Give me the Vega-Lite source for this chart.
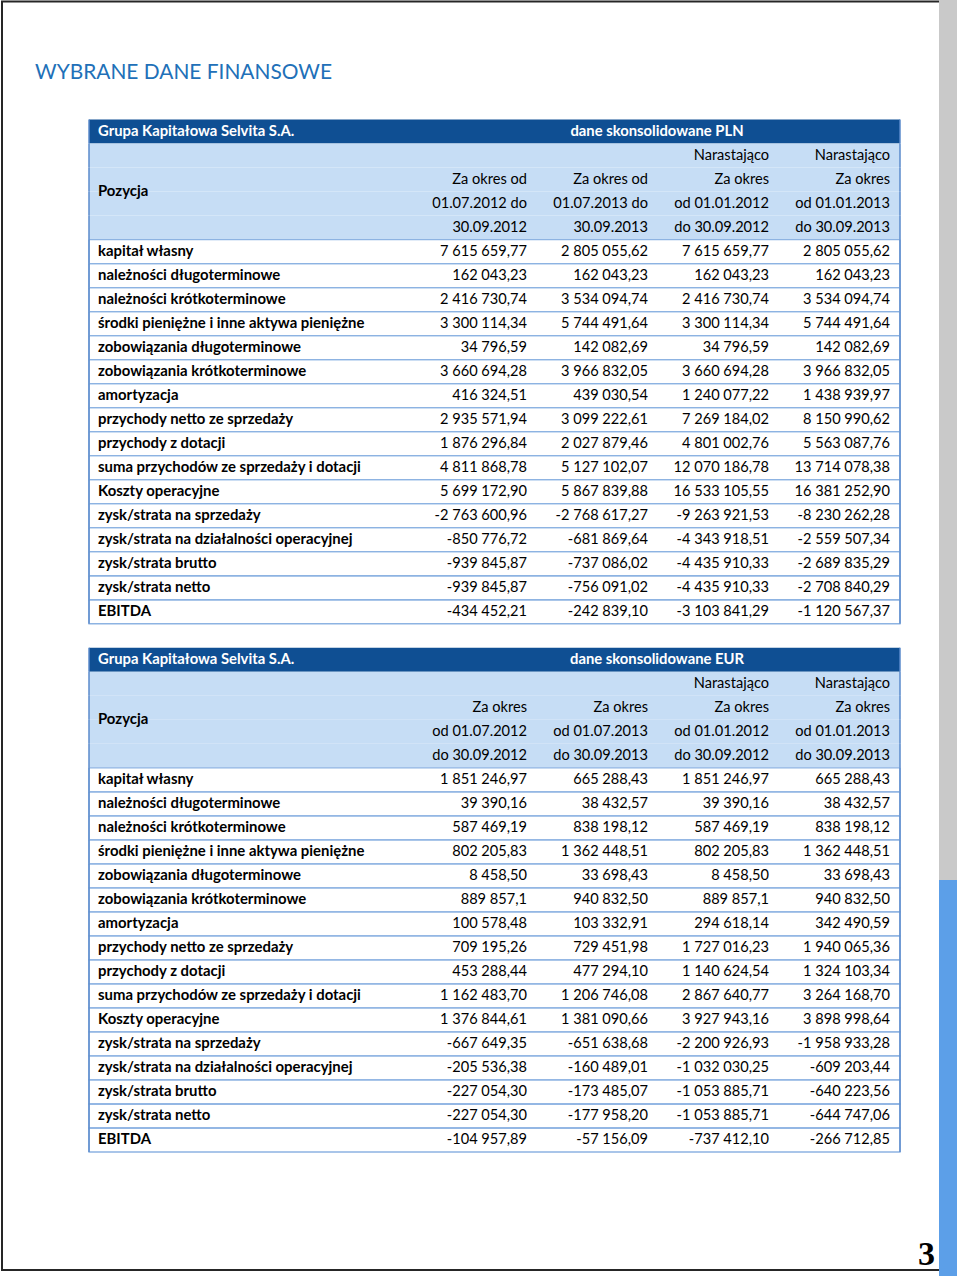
{
"$schema": "https://vega.github.io/schema/vega-lite/v6.json",
"width": 960, "height": 1276,
"autosize": {"type": "fit", "contains": "padding"},
"padding": 0,
"background": "#ffffff",
"config": {"view": {"stroke": null}, "text": {"font": "Lato", "baseline": "middle"}},
"datasets": {
"lines": [
{"line":0,"kind":"title"},{"line":1,"kind":"header"},{"line":2,"kind":"header"},{"line":3,"kind":"header"},{"line":4,"kind":"header"},
{"line":5,"kind":"data"},{"line":6,"kind":"data"},{"line":7,"kind":"data"},{"line":8,"kind":"data"},{"line":9,"kind":"data"},{"line":10,"kind":"data"},{"line":11,"kind":"data"},{"line":12,"kind":"data"},{"line":13,"kind":"data"},{"line":14,"kind":"data"},{"line":15,"kind":"data"},{"line":16,"kind":"data"},{"line":17,"kind":"data"},{"line":18,"kind":"data"},{"line":19,"kind":"data"},{"line":20,"kind":"data"},
{"line":22,"kind":"title"},{"line":23,"kind":"header"},{"line":24,"kind":"header"},{"line":25,"kind":"header"},{"line":26,"kind":"header"},
{"line":27,"kind":"data"},{"line":28,"kind":"data"},{"line":29,"kind":"data"},{"line":30,"kind":"data"},{"line":31,"kind":"data"},{"line":32,"kind":"data"},{"line":33,"kind":"data"},{"line":34,"kind":"data"},{"line":35,"kind":"data"},{"line":36,"kind":"data"},{"line":37,"kind":"data"},{"line":38,"kind":"data"},{"line":39,"kind":"data"},{"line":40,"kind":"data"},{"line":41,"kind":"data"},{"line":42,"kind":"data"}
],
"bars": [
{"line":0,"left":"Grupa Kapitałowa Selvita S.A.","center":"dane skonsolidowane PLN"},
{"line":22,"left":"Grupa Kapitałowa Selvita S.A.","center":"dane skonsolidowane EUR"}
],
"pozycja": [{"line":2,"text":"Pozycja"},{"line":24,"text":"Pozycja"}],
"heading": [{"line":-2,"text":"WYBRANE DANE FINANSOWE"}],
"labels": [
{"line":5,"text":"kapitał własny"},{"line":6,"text":"należności długoterminowe"},{"line":7,"text":"należności krótkoterminowe"},{"line":8,"text":"środki pieniężne i inne aktywa pieniężne"},{"line":9,"text":"zobowiązania długoterminowe"},{"line":10,"text":"zobowiązania krótkoterminowe"},{"line":11,"text":"amortyzacja"},{"line":12,"text":"przychody netto ze sprzedaży"},{"line":13,"text":"przychody z dotacji"},{"line":14,"text":"suma przychodów ze sprzedaży i dotacji"},{"line":15,"text":"Koszty operacyjne"},{"line":16,"text":"zysk/strata na sprzedaży"},{"line":17,"text":"zysk/strata na działalności operacyjnej"},{"line":18,"text":"zysk/strata brutto"},{"line":19,"text":"zysk/strata netto"},{"line":20,"text":"EBITDA"},
{"line":27,"text":"kapitał własny"},{"line":28,"text":"należności długoterminowe"},{"line":29,"text":"należności krótkoterminowe"},{"line":30,"text":"środki pieniężne i inne aktywa pieniężne"},{"line":31,"text":"zobowiązania długoterminowe"},{"line":32,"text":"zobowiązania krótkoterminowe"},{"line":33,"text":"amortyzacja"},{"line":34,"text":"przychody netto ze sprzedaży"},{"line":35,"text":"przychody z dotacji"},{"line":36,"text":"suma przychodów ze sprzedaży i dotacji"},{"line":37,"text":"Koszty operacyjne"},{"line":38,"text":"zysk/strata na sprzedaży"},{"line":39,"text":"zysk/strata na działalności operacyjnej"},{"line":40,"text":"zysk/strata brutto"},{"line":41,"text":"zysk/strata netto"},{"line":42,"text":"EBITDA"}
],
"cells": [
{"line":1,"col":3,"text":"Narastająco"},{"line":1,"col":4,"text":"Narastająco"},
{"line":2,"col":1,"text":"Za okres od"},{"line":2,"col":2,"text":"Za okres od"},{"line":2,"col":3,"text":"Za okres"},{"line":2,"col":4,"text":"Za okres"},
{"line":3,"col":1,"text":"01.07.2012 do"},{"line":3,"col":2,"text":"01.07.2013 do"},{"line":3,"col":3,"text":"od 01.01.2012"},{"line":3,"col":4,"text":"od 01.01.2013"},
{"line":4,"col":1,"text":"30.09.2012"},{"line":4,"col":2,"text":"30.09.2013"},{"line":4,"col":3,"text":"do 30.09.2012"},{"line":4,"col":4,"text":"do 30.09.2013"},
{"line":5,"col":1,"text":"7 615 659,77"},{"line":5,"col":2,"text":"2 805 055,62"},{"line":5,"col":3,"text":"7 615 659,77"},{"line":5,"col":4,"text":"2 805 055,62"},
{"line":6,"col":1,"text":"162 043,23"},{"line":6,"col":2,"text":"162 043,23"},{"line":6,"col":3,"text":"162 043,23"},{"line":6,"col":4,"text":"162 043,23"},
{"line":7,"col":1,"text":"2 416 730,74"},{"line":7,"col":2,"text":"3 534 094,74"},{"line":7,"col":3,"text":"2 416 730,74"},{"line":7,"col":4,"text":"3 534 094,74"},
{"line":8,"col":1,"text":"3 300 114,34"},{"line":8,"col":2,"text":"5 744 491,64"},{"line":8,"col":3,"text":"3 300 114,34"},{"line":8,"col":4,"text":"5 744 491,64"},
{"line":9,"col":1,"text":"34 796,59"},{"line":9,"col":2,"text":"142 082,69"},{"line":9,"col":3,"text":"34 796,59"},{"line":9,"col":4,"text":"142 082,69"},
{"line":10,"col":1,"text":"3 660 694,28"},{"line":10,"col":2,"text":"3 966 832,05"},{"line":10,"col":3,"text":"3 660 694,28"},{"line":10,"col":4,"text":"3 966 832,05"},
{"line":11,"col":1,"text":"416 324,51"},{"line":11,"col":2,"text":"439 030,54"},{"line":11,"col":3,"text":"1 240 077,22"},{"line":11,"col":4,"text":"1 438 939,97"},
{"line":12,"col":1,"text":"2 935 571,94"},{"line":12,"col":2,"text":"3 099 222,61"},{"line":12,"col":3,"text":"7 269 184,02"},{"line":12,"col":4,"text":"8 150 990,62"},
{"line":13,"col":1,"text":"1 876 296,84"},{"line":13,"col":2,"text":"2 027 879,46"},{"line":13,"col":3,"text":"4 801 002,76"},{"line":13,"col":4,"text":"5 563 087,76"},
{"line":14,"col":1,"text":"4 811 868,78"},{"line":14,"col":2,"text":"5 127 102,07"},{"line":14,"col":3,"text":"12 070 186,78"},{"line":14,"col":4,"text":"13 714 078,38"},
{"line":15,"col":1,"text":"5 699 172,90"},{"line":15,"col":2,"text":"5 867 839,88"},{"line":15,"col":3,"text":"16 533 105,55"},{"line":15,"col":4,"text":"16 381 252,90"},
{"line":16,"col":1,"text":"-2 763 600,96"},{"line":16,"col":2,"text":"-2 768 617,27"},{"line":16,"col":3,"text":"-9 263 921,53"},{"line":16,"col":4,"text":"-8 230 262,28"},
{"line":17,"col":1,"text":"-850 776,72"},{"line":17,"col":2,"text":"-681 869,64"},{"line":17,"col":3,"text":"-4 343 918,51"},{"line":17,"col":4,"text":"-2 559 507,34"},
{"line":18,"col":1,"text":"-939 845,87"},{"line":18,"col":2,"text":"-737 086,02"},{"line":18,"col":3,"text":"-4 435 910,33"},{"line":18,"col":4,"text":"-2 689 835,29"},
{"line":19,"col":1,"text":"-939 845,87"},{"line":19,"col":2,"text":"-756 091,02"},{"line":19,"col":3,"text":"-4 435 910,33"},{"line":19,"col":4,"text":"-2 708 840,29"},
{"line":20,"col":1,"text":"-434 452,21"},{"line":20,"col":2,"text":"-242 839,10"},{"line":20,"col":3,"text":"-3 103 841,29"},{"line":20,"col":4,"text":"-1 120 567,37"},
{"line":23,"col":3,"text":"Narastająco"},{"line":23,"col":4,"text":"Narastająco"},
{"line":24,"col":1,"text":"Za okres"},{"line":24,"col":2,"text":"Za okres"},{"line":24,"col":3,"text":"Za okres"},{"line":24,"col":4,"text":"Za okres"},
{"line":25,"col":1,"text":"od 01.07.2012"},{"line":25,"col":2,"text":"od 01.07.2013"},{"line":25,"col":3,"text":"od 01.01.2012"},{"line":25,"col":4,"text":"od 01.01.2013"},
{"line":26,"col":1,"text":"do 30.09.2012"},{"line":26,"col":2,"text":"do 30.09.2013"},{"line":26,"col":3,"text":"do 30.09.2012"},{"line":26,"col":4,"text":"do 30.09.2013"},
{"line":27,"col":1,"text":"1 851 246,97"},{"line":27,"col":2,"text":"665 288,43"},{"line":27,"col":3,"text":"1 851 246,97"},{"line":27,"col":4,"text":"665 288,43"},
{"line":28,"col":1,"text":"39 390,16"},{"line":28,"col":2,"text":"38 432,57"},{"line":28,"col":3,"text":"39 390,16"},{"line":28,"col":4,"text":"38 432,57"},
{"line":29,"col":1,"text":"587 469,19"},{"line":29,"col":2,"text":"838 198,12"},{"line":29,"col":3,"text":"587 469,19"},{"line":29,"col":4,"text":"838 198,12"},
{"line":30,"col":1,"text":"802 205,83"},{"line":30,"col":2,"text":"1 362 448,51"},{"line":30,"col":3,"text":"802 205,83"},{"line":30,"col":4,"text":"1 362 448,51"},
{"line":31,"col":1,"text":"8 458,50"},{"line":31,"col":2,"text":"33 698,43"},{"line":31,"col":3,"text":"8 458,50"},{"line":31,"col":4,"text":"33 698,43"},
{"line":32,"col":1,"text":"889 857,1"},{"line":32,"col":2,"text":"940 832,50"},{"line":32,"col":3,"text":"889 857,1"},{"line":32,"col":4,"text":"940 832,50"},
{"line":33,"col":1,"text":"100 578,48"},{"line":33,"col":2,"text":"103 332,91"},{"line":33,"col":3,"text":"294 618,14"},{"line":33,"col":4,"text":"342 490,59"},
{"line":34,"col":1,"text":"709 195,26"},{"line":34,"col":2,"text":"729 451,98"},{"line":34,"col":3,"text":"1 727 016,23"},{"line":34,"col":4,"text":"1 940 065,36"},
{"line":35,"col":1,"text":"453 288,44"},{"line":35,"col":2,"text":"477 294,10"},{"line":35,"col":3,"text":"1 140 624,54"},{"line":35,"col":4,"text":"1 324 103,34"},
{"line":36,"col":1,"text":"1 162 483,70"},{"line":36,"col":2,"text":"1 206 746,08"},{"line":36,"col":3,"text":"2 867 640,77"},{"line":36,"col":4,"text":"3 264 168,70"},
{"line":37,"col":1,"text":"1 376 844,61"},{"line":37,"col":2,"text":"1 381 090,66"},{"line":37,"col":3,"text":"3 927 943,16"},{"line":37,"col":4,"text":"3 898 998,64"},
{"line":38,"col":1,"text":"-667 649,35"},{"line":38,"col":2,"text":"-651 638,68"},{"line":38,"col":3,"text":"-2 200 926,93"},{"line":38,"col":4,"text":"-1 958 933,28"},
{"line":39,"col":1,"text":"-205 536,38"},{"line":39,"col":2,"text":"-160 489,01"},{"line":39,"col":3,"text":"-1 032 030,25"},{"line":39,"col":4,"text":"-609 203,44"},
{"line":40,"col":1,"text":"-227 054,30"},{"line":40,"col":2,"text":"-173 485,07"},{"line":40,"col":3,"text":"-1 053 885,71"},{"line":40,"col":4,"text":"-640 223,56"},
{"line":41,"col":1,"text":"-227 054,30"},{"line":41,"col":2,"text":"-177 958,20"},{"line":41,"col":3,"text":"-1 053 885,71"},{"line":41,"col":4,"text":"-644 747,06"},
{"line":42,"col":1,"text":"-104 957,89"},{"line":42,"col":2,"text":"-57 156,09"},{"line":42,"col":3,"text":"-737 412,10"},{"line":42,"col":4,"text":"-266 712,85"}
]
},
"layer": [
{
"data": {"values": [{"part": "page"}]},
"layer": [
{"mark": {"type": "rect", "filled": false, "stroke": "#262626", "strokeWidth": 2},
 "encoding": {
  "x": {"datum": 0, "type": "quantitative", "axis": null, "scale": {"type": "linear", "domain": [0,1,2,3], "range": [2,939,941,957], "zero": false, "nice": false}},
  "x2": {"datum": 2},
  "y": {"datum": 1, "type": "quantitative", "axis": null, "scale": {"type": "linear", "domain": [0,1,2,3,4], "range": [0,1.5,880,1270,1276], "zero": false, "nice": false}},
  "y2": {"datum": 3}}},
{"mark": {"type": "rect", "color": "#C9C9C9"},
 "encoding": {
  "x": {"datum": 1, "type": "quantitative", "axis": null},
  "x2": {"datum": 3},
  "y": {"datum": 0, "type": "quantitative", "axis": null},
  "y2": {"datum": 2}}},
{"mark": {"type": "rect", "color": "#5C9FE8"},
 "encoding": {
  "x": {"datum": 1, "type": "quantitative", "axis": null},
  "x2": {"datum": 3},
  "y": {"datum": 2, "type": "quantitative", "axis": null},
  "y2": {"datum": 4}}},
{"mark": {"type": "text", "text": "3", "font": "Liberation Serif", "fontWeight": "bold", "fontSize": 34, "color": "#000000", "align": "right", "baseline": "alphabetic", "dx": -4, "dy": -5},
 "encoding": {
  "x": {"datum": 1, "type": "quantitative", "axis": null},
  "y": {"datum": 3, "type": "quantitative", "axis": null}}}
]
},
{
"layer": [
{"data": {"name": "lines"},
 "mark": {"type": "rect"},
 "encoding": {
  "x": {"datum": -1, "type": "quantitative", "axis": null, "scale": {"type": "linear", "domain": [-2,-1,0,1,2,3,4], "range": [35,89,416,537,658,779,900], "zero": false, "nice": false}},
  "x2": {"datum": 4},
  "y": {"field": "line", "type": "ordinal", "axis": null, "scale": {"type": "band", "domain": [-2,-1,0,1,2,3,4,5,6,7,8,9,10,11,12,13,14,15,16,17,18,19,20,21,22,23,24,25,26,27,28,29,30,31,32,33,34,35,36,37,38,39,40,41,42], "range": [71.5,1152], "paddingInner": 0, "paddingOuter": 0}},
  "color": {"field": "kind", "type": "nominal", "legend": null, "scale": {"domain": ["title","header","data"], "range": ["#0F4F93","#C6DDF5","#FFFFFF"]}}}},
{"data": {"name": "lines"},
 "transform": [{"filter": "datum.kind == 'data'"}],
 "mark": {"type": "rect", "filled": false, "stroke": "#8DB3E2", "strokeWidth": 1.3},
 "encoding": {
  "x": {"datum": -1, "type": "quantitative", "axis": null},
  "x2": {"datum": 4},
  "y": {"field": "line", "type": "ordinal", "axis": null}}},
{"data": {"name": "lines"},
 "mark": {"type": "rect", "filled": false, "stroke": "#5B8BCB", "strokeWidth": 1.5},
 "encoding": {
  "x": {"datum": -1, "type": "quantitative", "axis": null},
  "x2": {"datum": -1},
  "y": {"field": "line", "type": "ordinal", "axis": null}}},
{"data": {"name": "lines"},
 "mark": {"type": "rect", "filled": false, "stroke": "#5B8BCB", "strokeWidth": 1.5},
 "encoding": {
  "x": {"datum": 4, "type": "quantitative", "axis": null},
  "x2": {"datum": 4},
  "y": {"field": "line", "type": "ordinal", "axis": null}}},
{"data": {"name": "heading"},
 "mark": {"type": "text", "align": "left", "fontSize": 20.9, "color": "#2170B8", "dy": 1},
 "encoding": {
  "x": {"datum": -2, "type": "quantitative", "axis": null},
  "y": {"field": "line", "type": "ordinal", "axis": null, "bandPosition": 0},
  "text": {"field": "text"}}},
{"data": {"name": "bars"},
 "mark": {"type": "text", "align": "left", "fontSize": 14.8, "fontWeight": "bold", "color": "#FFFFFF", "dx": 9},
 "encoding": {
  "x": {"datum": -1, "type": "quantitative", "axis": null},
  "y": {"field": "line", "type": "ordinal", "axis": null},
  "text": {"field": "left"}}},
{"data": {"name": "bars"},
 "mark": {"type": "text", "align": "center", "fontSize": 14.8, "fontWeight": "bold", "color": "#FFFFFF", "dx": -1},
 "encoding": {
  "x": {"datum": 2, "type": "quantitative", "axis": null},
  "y": {"field": "line", "type": "ordinal", "axis": null},
  "text": {"field": "center"}}},
{"data": {"name": "pozycja"},
 "mark": {"type": "text", "align": "left", "fontSize": 14.9, "fontWeight": "bold", "color": "#000000", "dx": 9},
 "encoding": {
  "x": {"datum": -1, "type": "quantitative", "axis": null},
  "y": {"field": "line", "type": "ordinal", "axis": null, "bandPosition": 1},
  "text": {"field": "text"}}},
{"data": {"name": "labels"},
 "mark": {"type": "text", "align": "left", "fontSize": 14.9, "fontWeight": "bold", "color": "#000000", "dx": 9},
 "encoding": {
  "x": {"datum": -1, "type": "quantitative", "axis": null},
  "y": {"field": "line", "type": "ordinal", "axis": null},
  "text": {"field": "text"}}},
{"data": {"name": "cells"},
 "mark": {"type": "text", "align": "right", "fontSize": 14.6, "color": "#000000", "dx": -10},
 "encoding": {
  "x": {"field": "col", "type": "quantitative", "axis": null},
  "y": {"field": "line", "type": "ordinal", "axis": null},
  "text": {"field": "text"}}}
]
}
],
"resolve": {"scale": {"x": "independent", "y": "independent"}}
}
